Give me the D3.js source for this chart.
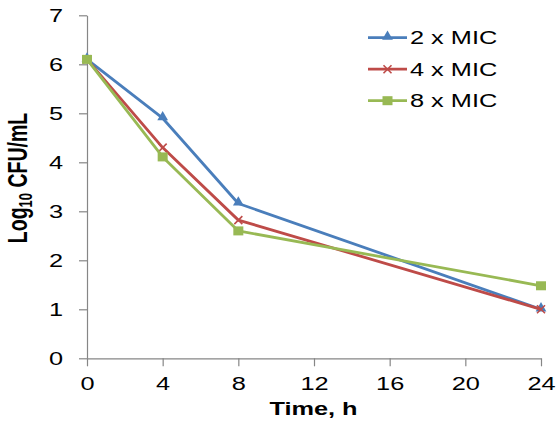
<!DOCTYPE html>
<html>
<head>
<meta charset="utf-8">
<script src="https://cdn.jsdelivr.net/npm/d3@7"></script>
<style>
  body { margin: 0; background: #fff; }
  svg { display: block; font-family: Arial, "Liberation Sans", sans-serif; }
</style>
</head>
<body>
<svg id="chart" width="556" height="423"></svg>
<script>
// sampling times (h) and log10 CFU/mL per concentration
const times = [0, 4, 8, 24];
const mic2 = [6.1, 4.9, 3.16, 1.0];
const mic4 = [6.1, 4.3, 2.82, 1.0];
const mic8 = [6.1, 4.11, 2.6, 1.48];
const seriesNames = ['2 x MIC', '4 x MIC', '8 x MIC'];
const xTicks = [0, 4, 8, 12, 16, 20, 24];
const yTicks = [0, 1, 2, 3, 4, 5, 6, 7];

const colors = ['#4a7ebb', '#be4b48', '#98b954'];
const markers = ['triangle', 'cross', 'square'];
const stretch = 1.37; // the original is squeezed wide, text included

const svg = d3.select('#chart');
const x = d3.scaleLinear().domain([0, 24]).range([87, 541]);
const y = d3.scaleLinear().domain([0, 7]).range([358.3, 15.3]);

const series = [mic2, mic4, mic8].map((vals, i) => ({
    name: seriesNames[i],
    color: colors[i],
    marker: markers[i],
    points: times.map((t, j) => ({ t, v: vals[j] })),
}));

// axes
const yAxis = svg.append('g')
    .attr('transform', `translate(${x(0)},0)`)
    .call(d3.axisLeft(y).tickValues(yTicks).tickSize(8).tickSizeOuter(0).tickFormat(d3.format('d')));
const xAxis = svg.append('g')
    .attr('transform', `translate(0,${y(0)})`)
    .call(d3.axisBottom(x).tickValues(xTicks).tickSize(8).tickSizeOuter(0).tickFormat(d3.format('d')));

[yAxis, xAxis].forEach(ax => {
    ax.select('.domain').attr('stroke', '#868686').attr('stroke-width', 1.2);
    ax.selectAll('.tick line').attr('stroke', '#868686').attr('stroke-width', 1.2);
    ax.selectAll('.tick text')
        .attr('fill', '#000')
        .style('font-size', '18.5px')
        .style('font-family', 'Arial, "Liberation Sans", sans-serif');
});
yAxis.selectAll('.tick text')
    .attr('x', 0).attr('dy', '0.36em')
    .attr('transform', `translate(-24,0) scale(${stretch},1)`);
xAxis.selectAll('.tick text')
    .attr('y', 32).attr('dy', 0)
    .attr('transform', `scale(${stretch},1)`);

// axis titles
const yTitle = svg.append('text')
    .attr('transform', `translate(27,178) scale(${stretch},1) rotate(-90)`)
    .attr('text-anchor', 'middle')
    .style('font-size', '19.5px')
    .style('font-weight', 'bold');
yTitle.append('tspan').text('Log');
yTitle.append('tspan').text('10').style('font-size', '13px').attr('dy', 4);
yTitle.append('tspan').text(' CFU/mL').attr('dy', -4);

svg.append('text')
    .attr('transform', `translate(313.5,415) scale(${stretch},1)`)
    .attr('text-anchor', 'middle')
    .style('font-size', '18.5px')
    .style('font-weight', 'bold')
    .text('Time, h');

const drawMarker = (g, kind, color) => {
    if (kind === 'triangle') {
        g.append('path')
            .attr('d', d3.symbol(d3.symbolTriangle, 50)())
            .attr('transform', 'translate(0,-1)')
            .attr('fill', color);
    } else if (kind === 'cross') {
        g.append('path')
            .attr('d', 'M-4,-4L4,4M-4,4L4,-4')
            .attr('stroke', color)
            .attr('stroke-width', 1.6)
            .attr('fill', 'none');
    } else {
        g.append('rect')
            .attr('x', -5).attr('y', -4.5)
            .attr('width', 10).attr('height', 9)
            .attr('fill', color);
    }
};

// lines and markers
const line = d3.line().x(d => x(d.t)).y(d => y(d.v));
series.forEach(s => {
    svg.append('path')
        .datum(s.points)
        .attr('d', line)
        .attr('fill', 'none')
        .attr('stroke', s.color)
        .attr('stroke-width', 2.8)
        .attr('stroke-linejoin', 'round');
    svg.append('g').selectAll('g')
        .data(s.points)
        .join('g')
        .attr('transform', d => `translate(${x(d.t)},${y(d.v)})`)
        .each(function () { drawMarker(d3.select(this), s.marker, s.color); });
});

// legend
const legend = svg.append('g');
series.forEach((s, i) => {
    const ly = 37.7 + i * 31.5;
    legend.append('line')
        .attr('x1', 368).attr('x2', 407)
        .attr('y1', ly).attr('y2', ly)
        .attr('stroke', s.color)
        .attr('stroke-width', 2.8);
    drawMarker(legend.append('g').attr('transform', `translate(387.5,${ly})`), s.marker, s.color);
    legend.append('text')
        .attr('transform', `translate(410,${ly + 6.6}) scale(${stretch},1)`)
        .style('font-size', '18.5px')
        .text(s.name);
});
</script>
</body>
</html>
